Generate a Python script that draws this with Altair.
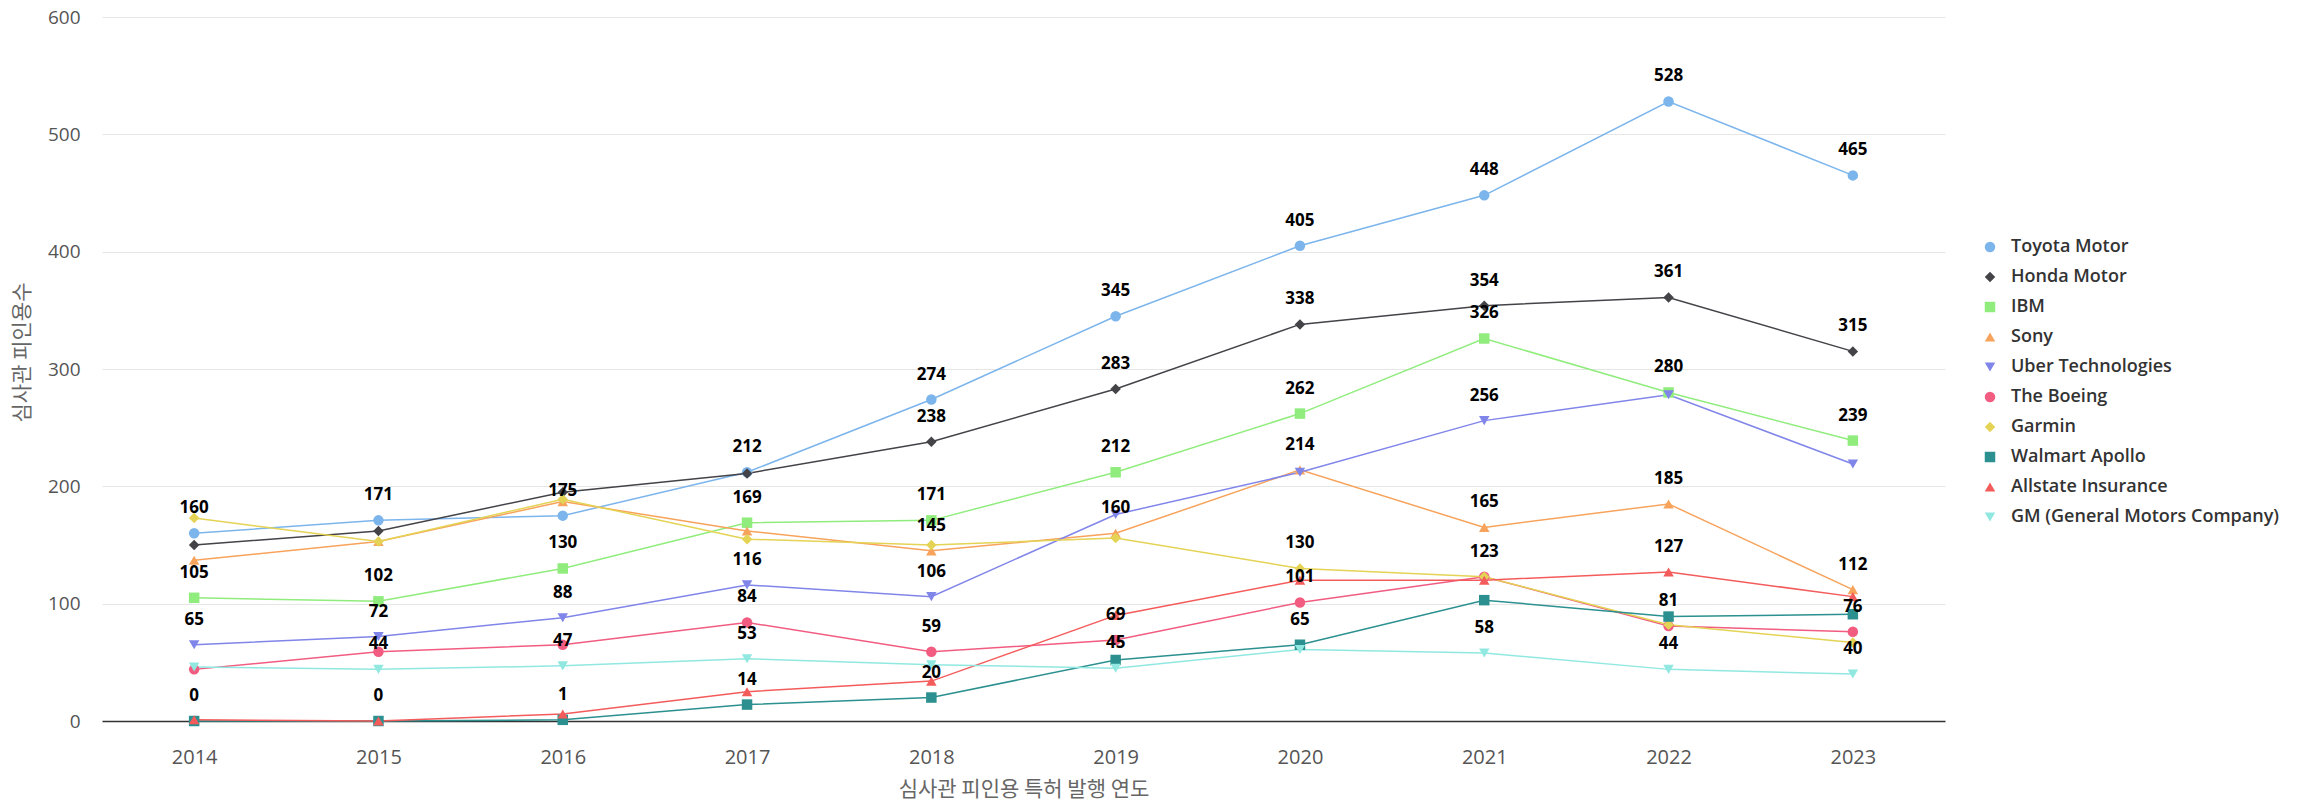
import altair as alt
import pandas as pd

years = [2014, 2015, 2016, 2017, 2018, 2019, 2020, 2021, 2022, 2023]

series_names = [
    "Toyota Motor", "Honda Motor", "IBM", "Sony", "Uber Technologies",
    "The Boeing", "Garmin", "Walmart Apollo", "Allstate Insurance",
    "GM (General Motors Company)",
]

toyota = [160, 171, 175, 212, 274, 345, 405, 448, 528, 465]
honda = [150, 162, 195, 211, 238, 283, 338, 354, 361, 315]
ibm = [105, 102, 130, 169, 171, 212, 262, 326, 280, 239]
sony = [137, 153, 187, 162, 145, 160, 214, 165, 185, 112]
uber = [65, 72, 88, 116, 106, 176, 212, 256, 278, 219]
boeing = [44, 59, 65, 84, 59, 69, 101, 123, 81, 76]
garmin = [173, 153, 189, 155, 150, 156, 130, 123, 82, 67]
walmart = [0, 0, 1, 14, 20, 52, 65, 103, 89, 91]
allstate = [1, 0, 6, 25, 34, 90, 120, 120, 127, 106]
gm = [46, 44, 47, 53, 48, 45, 61, 58, 44, 40]

# which data labels are visible (others hidden by overlap in the original)
show_toyota = [1, 1, 1, 1, 1, 1, 1, 1, 1, 1]
show_honda = [0, 0, 0, 0, 1, 1, 1, 1, 1, 1]
show_ibm = [1, 1, 1, 1, 1, 1, 1, 1, 1, 1]
show_sony = [0, 0, 0, 0, 1, 1, 1, 1, 1, 1]
show_uber = [1, 1, 1, 1, 1, 0, 0, 1, 0, 0]
show_boeing = [0, 0, 0, 1, 1, 1, 1, 0, 1, 1]
show_garmin = [0, 0, 0, 0, 0, 0, 1, 1, 0, 0]
show_walmart = [1, 1, 1, 1, 1, 0, 1, 0, 0, 0]
show_allstate = [0, 0, 0, 0, 0, 0, 0, 0, 1, 0]
show_gm = [0, 1, 1, 1, 0, 1, 0, 1, 1, 1]

colors = ["#7cb5ec", "#434348", "#90ed7d", "#f7a35c", "#8085e9",
          "#f15c80", "#e4d354", "#2b908f", "#f45b5b", "#91e8e1"]
shapes = ["circle", "diamond", "square", "triangle-up", "triangle-down",
          "circle", "diamond", "square", "triangle-up", "triangle-down"]

values = [toyota, honda, ibm, sony, uber, boeing, garmin, walmart, allstate, gm]
shows = [show_toyota, show_honda, show_ibm, show_sony, show_uber,
         show_boeing, show_garmin, show_walmart, show_allstate, show_gm]

rows = []
for si, (name, vals, shw) in enumerate(zip(series_names, values, shows)):
    for y, v, s in zip(years, vals, shw):
        rows.append({"company": name, "order": si, "year": str(y), "value": v, "show": s})
df = pd.DataFrame(rows)

FONT = "Open Sans"

x = alt.X("year:O", title="심사관 피인용 특허 발행 연도",
          scale=alt.Scale(type="point", padding=0.5),
          axis=alt.Axis(labelAngle=0, ticks=False, domain=True, domainColor="#333333",
                        domainWidth=1.5, labelPadding=26, labelFontSize=20,
                        labelColor="#555555", labelFont=FONT,
                        titleFont="Noto Sans CJK KR", titleFontSize=21,
                        titleFontWeight="normal", titleColor="#666666",
                        titleY=68, titleBaseline="middle", grid=False))
y = alt.Y("value:Q", title="심사관 피인용수",
          scale=alt.Scale(domain=[0, 600], nice=False),
          axis=alt.Axis(values=[0, 100, 200, 300, 400, 500, 600], domain=False, ticks=False,
                        grid=True, gridColor="#e6e6e6", labelPadding=22,
                        labelFontSize=19, labelColor="#555555", labelFont=FONT,
                        titleFont="Noto Sans CJK KR", titleFontSize=21,
                        titleFontWeight="normal", titleColor="#666666",
                        titleAngle=-90, titleX=-80, titleY=335,
                        titleAlign="center", titleBaseline="middle"))

color = alt.Color("company:N", title=None,
                  scale=alt.Scale(domain=series_names, range=colors),
                  legend=alt.Legend(orient="none", legendX=1879, legendY=221,
                                    labelFont=FONT, labelFontSize=18, labelFontWeight=600,
                                    labelColor="#333333", symbolSize=110,
                                    rowPadding=12, labelOffset=12, padding=0,
                                    labelLimit=400, symbolStrokeWidth=0))
shape = alt.Shape("company:N", title=None,
                  scale=alt.Scale(domain=series_names, range=shapes))

base = alt.Chart(df)

lines = base.mark_line(strokeWidth=1.5).encode(
    x=x, y=y, color=color, detail="company:N", order=alt.Order("year:O"))
points = base.mark_point(filled=True, size=110, opacity=1).encode(
    x=x, y=y, color=color, shape=shape)
labels = base.transform_filter(alt.datum.show == 1).mark_text(
    dy=-25, fontSize=17, fontWeight="bold", font=FONT, color="#000000",
    baseline="middle").encode(x=x, y=y, text="value:Q")

chart = alt.layer(lines, points, labels).properties(
    width=1843, height=704,
    autosize=alt.AutoSizeParams(type="none"),
    padding={"left": 94, "top": 9, "right": 344, "bottom": 79},
).configure_view(stroke=None)

chart.save("out.html", embed_options={"renderer": "svg", "actions": False})
